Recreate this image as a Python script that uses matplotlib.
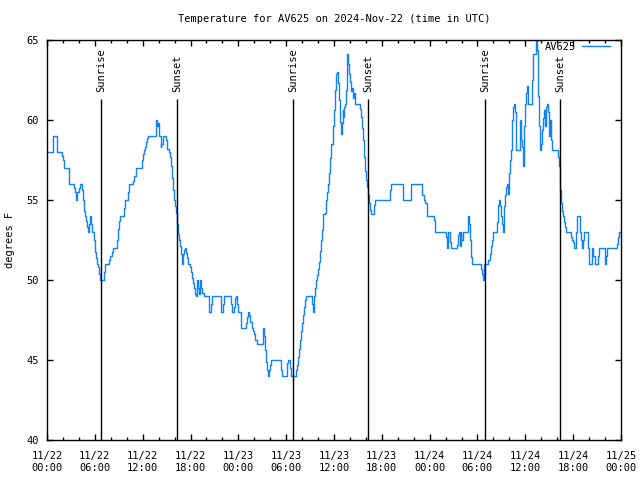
import numpy as np
import matplotlib
matplotlib.use("Agg")
import matplotlib.pyplot as plt
from matplotlib.ticker import MultipleLocator

# hours since 2024-11-22 00:00 UTC, temperature in degrees F
hours = [0.0, 0.6, 0.75, 1.2, 1.3, 1.8, 1.9, 2.0, 2.13, 2.6, 2.7, 3.3, 3.4, 3.5, 3.6, 3.7,
         3.76, 3.97, 4.1, 4.25, 4.35, 4.47, 4.6, 4.72, 4.89, 5.02, 5.14, 5.25, 5.35, 5.48,
         5.69, 5.85, 5.98, 6.1, 6.23, 6.44, 6.57, 6.69, 7.1, 7.19, 7.32, 7.75, 7.82, 7.95,
         8.11, 8.24, 8.65, 8.74, 8.86, 9.03, 9.16, 9.6, 9.7, 9.83, 10.1, 10.2, 10.33, 10.75,
         10.83, 10.96, 11.21, 11.75, 11.87, 12.0, 12.13, 12.25, 12.38, 12.5, 12.67, 13.6,
         13.7, 13.8, 13.9, 14.05, 14.17, 14.25, 14.35, 14.5, 14.8, 14.93, 15.09, 15.26,
         15.39, 15.51, 15.64, 15.76, 15.89, 16.02, 16.14, 16.27, 16.39, 16.52, 16.64, 16.77,
         16.89, 17.02, 17.14, 17.27, 17.44, 17.56, 17.73, 17.9, 18.02, 18.19, 18.36, 18.48,
         18.61, 18.7, 18.78, 18.84, 18.9, 19.07, 19.19, 19.25, 19.32, 19.49, 19.69, 20.24,
         20.36, 20.53, 20.74, 21.7, 21.87, 22.04, 22.2, 22.87, 23.04, 23.21, 23.46, 23.63,
         23.75, 23.83, 23.96, 24.25, 24.38, 24.88, 25.0, 25.13, 25.25, 25.38, 25.5, 25.67,
         25.8, 25.92, 26.09, 26.3, 26.93, 27.05, 27.13, 27.22, 27.35, 27.47, 27.6, 27.68,
         27.89, 28.0, 28.14, 29.14, 29.31, 29.43, 29.9, 30.06, 30.19, 30.4, 30.52, 30.65,
         31.11, 31.23, 31.36, 31.48, 31.61, 31.73, 31.86, 31.99, 32.11, 32.24, 32.36, 32.49,
         33.1, 33.23, 33.37, 33.5, 33.62, 33.74, 33.87, 33.99, 34.12, 34.29, 34.41, 34.54,
         34.66, 34.87, 34.99, 35.12, 35.25, 35.41, 35.54, 35.67, 35.83, 35.96, 36.09, 36.21,
         36.34, 36.46, 36.59, 36.71, 36.84, 36.96, 37.09, 37.15, 37.21, 37.34, 37.46, 37.59,
         37.67, 37.8, 37.92, 38.05, 38.17, 38.3, 38.43, 38.55, 38.68, 39.18, 39.31, 39.43,
         39.56, 39.69, 39.81, 39.94, 40.07, 40.2, 40.32, 40.45, 40.57, 40.7, 40.95, 41.07,
         41.2, 42.95, 43.07, 43.2, 44.5, 44.66, 45.41, 45.6, 47.0, 47.08, 47.25, 47.46,
         47.62, 48.46, 48.59, 48.71, 49.93, 50.05, 50.18, 50.26, 50.39, 50.51, 50.68, 51.3,
         51.43, 51.56, 51.68, 51.8, 51.9, 51.97, 52.14, 52.64, 52.77, 52.85, 52.97, 53.1,
         53.22, 53.35, 54.35, 54.47, 54.6, 54.73, 54.85, 55.23, 55.35, 55.57, 55.7, 55.82,
         55.95, 56.32, 56.45, 56.57, 56.7, 56.82, 56.95, 57.07, 57.2, 57.32, 57.45, 57.58,
         57.7, 57.83, 57.95, 58.08, 58.2, 58.33, 58.45, 58.58, 58.7, 58.83, 59.25, 59.37,
         59.5, 59.62, 59.75, 59.87, 60.0, 60.13, 60.25, 60.38, 60.75, 60.88, 61.0, 61.25,
         61.34, 61.45, 61.55, 61.67, 61.8, 61.92, 62.05, 62.17, 62.3, 62.47, 62.6, 62.72,
         62.85, 62.97, 63.1, 63.22, 63.35, 63.92, 64.05, 64.17, 64.3, 64.43, 64.55, 64.68,
         64.8, 64.93, 65.06, 65.43, 65.68, 65.8, 65.95, 66.1, 66.3, 66.48, 66.73, 66.85,
         66.98, 67.1, 67.22, 67.35, 67.68, 67.8, 67.93, 68.3, 68.4, 68.55, 68.7, 68.95,
         69.08, 69.2, 69.77, 69.95, 70.1, 70.25, 71.36, 71.5, 71.63, 71.75, 72.0]
temps = [58, 58, 59, 59, 58, 58, 57.75, 57.5, 57, 57, 56, 56, 55.75, 55.5, 55, 55,
         55.5, 55.75, 56, 56, 55.6, 55, 54.3, 54, 53.7, 53.3, 53, 53.5, 54, 53.5,
         53, 52.5, 51.75, 51.4, 51, 50.8, 50.4, 50, 50, 50.5, 51, 51, 51.25, 51.5,
         51.75, 52, 52, 52.5, 53.2, 53.7, 54, 54, 54.5, 55, 55, 55.5, 56, 56,
         56.2, 56.5, 57, 57, 57.5, 57.9, 58.1, 58.3, 58.6, 58.85, 59, 59,
         60, 59.6, 59.8, 59, 59, 58.3, 58.5, 59, 59, 58.75, 58.2, 58,
         57.7, 57.1, 56.35, 55.6, 55, 54.6, 54.2, 53.5, 52.9, 52.5, 52.1, 51.6,
         51.0, 51.6, 51.9, 52, 51.7, 51.35, 51, 50.8, 50.5, 50.1, 49.8, 49.5,
         49.1, 49, 49.9, 50, 49.5, 49.1, 49.9, 50, 49.5, 49.2, 49, 49,
         48, 48.5, 49, 49, 48, 48.5, 49, 49, 48.5, 48, 48.3, 48.85,
         49, 48.5, 48, 48, 47, 47, 47.3, 47.7, 48, 47.8, 47.4, 47,
         46.8, 46.6, 46.25, 46, 46, 46.7, 47, 46.5, 45.6, 44.9, 44.4, 44,
         44.4, 44.7, 45, 45, 44.4, 44, 44, 44.8, 45, 45, 44.5, 44,
         44, 44.4, 44.7, 45.2, 45.7, 46.25, 46.8, 47.3, 47.8, 48.3, 48.75, 49,
         49, 48.5, 48, 49, 49.5, 50, 50.3, 50.7, 51.1, 51.8, 52.5, 53.1,
         54.1, 54.2, 55, 55.5, 56, 56.7, 57.6, 58.5, 59.6, 60.6, 61.9, 62.9,
         63, 62.3, 61.25, 59.9, 59.1, 59.8, 60.6, 60.2, 60.8, 61, 61.9, 63.3,
         64.1, 63.5, 62.9, 62.4, 61.8, 62, 61.35, 61.7, 61, 61, 60.7, 60.2,
         59.5, 58.75, 57.7, 56.8, 56.25, 55.8, 55.3, 54.8, 54.4, 54.1, 54.1, 54.7,
         55, 55, 55.6, 56, 56, 55, 55, 56, 56, 55.3, 55, 54.8,
         54, 54, 53.75, 53, 53, 52.7, 52, 53, 53, 52.4, 52, 52,
         52.2, 52.8, 53, 52.1, 53, 52.5, 53, 53, 53.5, 54, 53.5, 52.5,
         51.45, 51, 51, 50.7, 50.4, 50, 51, 51, 51.25, 51.6, 52.1, 52.5,
         53, 53, 53.6, 54.7, 55, 54.6, 54, 53.5, 53, 54.6, 55.3, 55.8,
         56, 55.4, 56.7, 57.5, 58.1, 60, 60.8, 61, 60.5, 58.1, 58.1, 60,
         58.75, 58.3, 57.1, 59.6, 61, 61.7, 62.1, 61, 61, 62.5, 64.1, 64.1,
         65.5, 64.4, 61.5, 59.6, 58.1, 58.5, 59.4, 60.1, 60.6, 59.6, 60.8, 61,
         60.5, 59, 60, 58.75, 58.1, 58.1, 57.7, 57.1, 55.6, 54.8, 54.3, 54,
         53.6, 53.3, 53, 53, 52.7, 52.5, 52.4, 52, 53, 54, 54, 53,
         52.5, 52, 52.5, 53, 53, 52, 51, 51, 52, 51.5, 51, 51,
         51.5, 52, 52, 51, 51.5, 52, 52, 52.25, 52.7, 53, 53]

sunrise = [6.82, 30.9, 54.98]
sunset = [16.35, 40.31, 64.39]
tick_labels = ["11/22\n00:00", "11/22\n06:00", "11/22\n12:00", "11/22\n18:00",
               "11/23\n00:00", "11/23\n06:00", "11/23\n12:00", "11/23\n18:00",
               "11/24\n00:00", "11/24\n06:00", "11/24\n12:00", "11/24\n18:00",
               "11/25\n00:00"]

plt.rcParams['font.family'] = ['DejaVu Sans Mono']
plt.rcParams['font.size'] = 7.5

fig = plt.figure(figsize=(6.4, 4.8), dpi=100)
ax = fig.add_axes([47/640, 40/480, 574/640, 400/480])

ax.plot(hours, temps, color='#1080ff', lw=1.0, drawstyle='steps-post', label='AV625')

top = 61.3
for h in sunrise:
    ax.vlines(h, 40, top, color='black', lw=1.0)
    ax.text(h, top + 0.45, 'Sunrise', rotation=90, ha='center', va='bottom')
for h in sunset:
    ax.vlines(h, 40, top, color='black', lw=1.0)
    ax.text(h, top + 0.45, 'Sunset', rotation=90, ha='center', va='bottom')

ax.set_xlim(0, 72)
ax.set_ylim(40, 65)
ax.set_xticks(np.arange(0, 73, 6))
ax.set_xticklabels(tick_labels)
ax.xaxis.set_minor_locator(MultipleLocator(2))
ax.set_yticks(np.arange(40, 66, 5))
ax.tick_params(which='both', direction='in', top=True, right=True, width=1)
ax.tick_params(which='major', length=4.5)
ax.tick_params(which='minor', length=2.2)
ax.tick_params(axis='x', pad=8)
ax.tick_params(axis='y', pad=6)
for s in ax.spines.values():
    s.set_linewidth(1)

fig.text(334/640, 1 - 19/480, 'Temperature for AV625 on 2024-Nov-22 (time in UTC)',
         ha='center', va='center')
fig.text(10/640, 0.5, 'degrees F', rotation=90, ha='center', va='center')

ax.legend(loc='upper right', bbox_to_anchor=(610/640, 1 - 42/480),
          bbox_transform=fig.transFigure, frameon=False, markerfirst=False,
          borderaxespad=0, borderpad=0, handlelength=2.7, handletextpad=0.6)

fig.savefig('out.png', dpi=100)
